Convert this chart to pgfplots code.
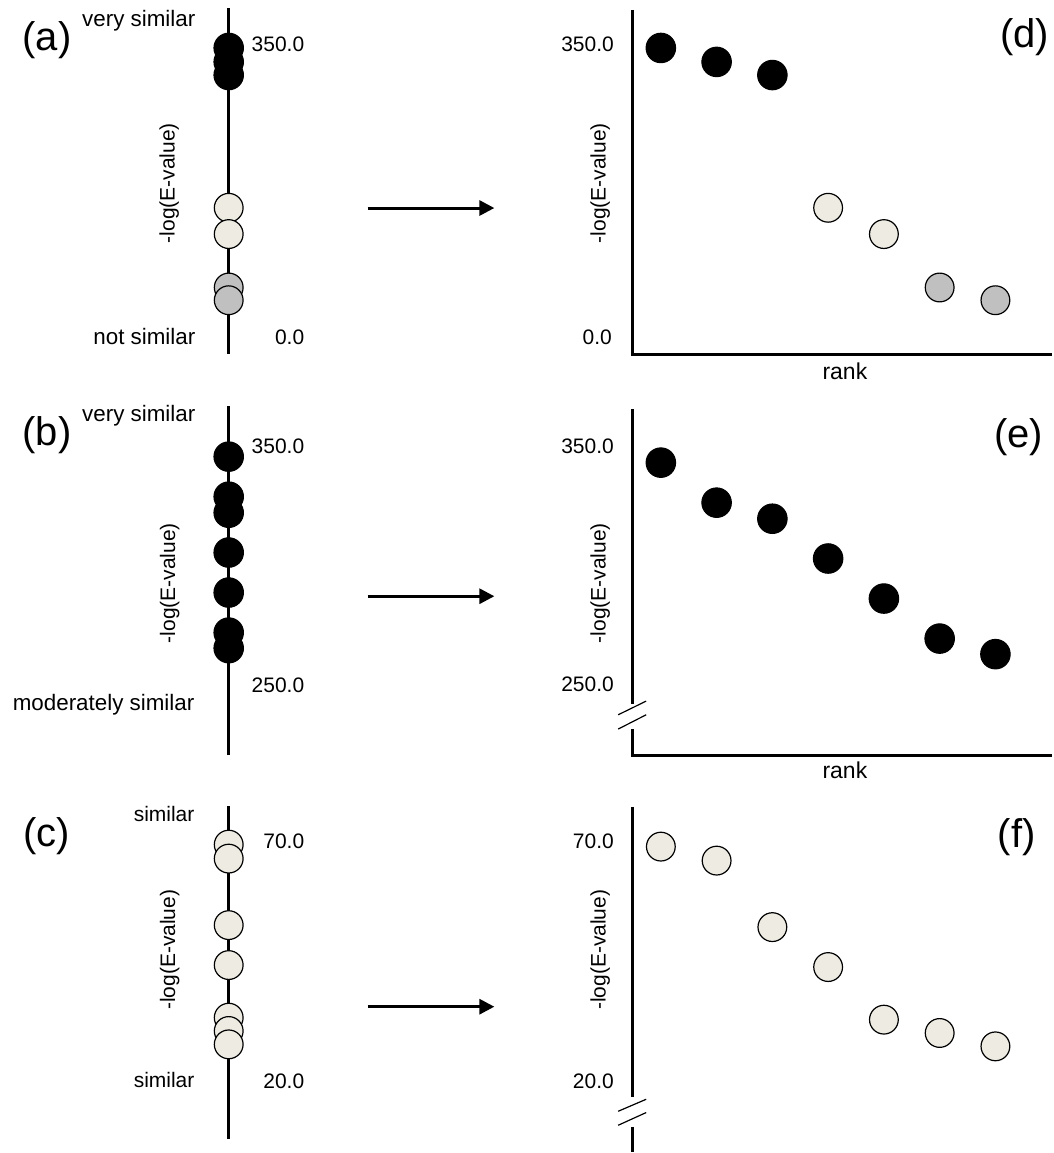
\documentclass[border=0pt]{standalone}
\usepackage{fontspec}
\setmainfont{Liberation Sans}
\usepackage{pgfplots}
\pgfplotsset{compat=1.18}
\usetikzlibrary{arrows.meta}
\definecolor{cream}{RGB}{238,236,226}
\definecolor{gry}{RGB}{192,192,192}
\pgfplotsset{
  panel/.style={scale only axis, hide axis, clip=false, anchor=south west},
  blk/.style={only marks, mark=*, mark size=7.4pt, mark options={draw=black, fill=black, line width=0.5pt}},
  crm/.style={only marks, mark=*, mark size=7.2pt, mark options={draw=black, fill=cream, line width=0.6pt}},
  gr/.style={only marks, mark=*, mark size=7.2pt, mark options={draw=black, fill=gry, line width=0.6pt}},
}
\tikzset{
  lab/.style={font=\fontsize{10.5}{12}\selectfont, inner sep=0pt},
  wlab/.style={font=\fontsize{11.2}{13}\selectfont, inner sep=0pt},
  big/.style={font=\fontsize{20}{23}\selectfont, inner sep=0pt},
  spine/.style={line width=1.5pt},
  slash/.style={line width=0.6pt},
  arr/.style={line width=1.5pt, -{Triangle[length=7.5pt,width=7.5pt]}},
}
\begin{document}
\begin{tikzpicture}
\begin{scope}[x=0.5pt,y=0.5pt]
\path[use as bounding box] (0,0) rectangle (1054,-1153);
\end{scope}

% ---------- axes ----------
% (a)
\begin{axis}[panel, at={(104.5pt,-177pt)}, width=20pt, height=173pt,
  xmin=-1, xmax=1, ymin=-21.87, ymax=398.6]
\addplot[black, line width=1.5pt] coordinates {(0,-21.87) (0,398.6)};
\addplot[blk] coordinates {(0,350) (0,333) (0,317)};
\addplot[crm] coordinates {(0,155.5) (0,123.5)};
\addplot[gr] coordinates {(0,58.5) (0,43)};
\end{axis}
% (d)
\begin{axis}[panel, at={(316.5pt,-177.5pt)}, width=210pt, height=172.5pt,
  xmin=0.486, xmax=8.008, ymin=-23.09, ymax=396.2]
\addplot[blk] coordinates {(1,350) (2,333) (3,317)};
\addplot[crm] coordinates {(4,155.5) (5,123.5)};
\addplot[gr] coordinates {(6,58.5) (7,43)};
\end{axis}
% (b)
\begin{axis}[panel, at={(104.5pt,-378pt)}, width=20pt, height=174.5pt,
  xmin=-1, xmax=1, ymin=217.92, ymax=363.33]
\addplot[black, line width=1.5pt] coordinates {(0,217.92) (0,363.33)};
\addplot[blk] coordinates {(0,342.4) (0,325.7) (0,319) (0,302.4) (0,285.7) (0,269) (0,262.5)};
\end{axis}
% (e)
\begin{axis}[panel, at={(316.5pt,-378pt)}, width=210pt, height=173pt,
  xmin=0.486, xmax=8.008, ymin=220.42, ymax=364.58]
\addplot[blk] coordinates {(1,342.4) (2,325.7) (3,319) (4,302.4) (5,285.7) (6,269) (7,262.5)};
\end{axis}
% (c)
\begin{axis}[panel, at={(104.5pt,-570pt)}, width=20pt, height=166.5pt,
  xmin=-1, xmax=1, ymin=7.56, ymax=77.17]
\addplot[black, line width=1.5pt] coordinates {(0,7.56) (0,77.17)};
\addplot[crm] coordinates {(0,69.08) (0,66.15) (0,52.23) (0,43.87) (0,32.86) (0,30.07) (0,27.27)};
\end{axis}
% (f)
\begin{axis}[panel, at={(316.5pt,-576.5pt)}, width=210pt, height=172.5pt,
  xmin=0.486, xmax=8.008, ymin=5.26, ymax=77.38]
\addplot[crm] coordinates {(1,69.08) (2,66.15) (3,52.23) (4,43.87) (5,32.86) (6,30.07) (7,27.27)};
\end{axis}

\begin{scope}[x=0.5pt,y=0.5pt]
% (a)
\node[big] at (47,-40) {(a)};
\node[wlab, anchor=base east] at (196,-27) {very similar};
\node[wlab, anchor=base east] at (196,-345) {not similar};
\node[lab, anchor=base east] at (305,-52) {350.0};
\node[lab, anchor=base east] at (305,-345) {0.0};
\node[lab, rotate=90] at (169.5,-183.5) {-log(E-value)};
% (d)
\draw[spine] (633,-10) -- (633,-355) -- (1053,-355);
\node[big] at (1026,-37) {(d)};
\node[lab, anchor=base east] at (615,-52) {350.0};
\node[lab, anchor=base east] at (613,-345) {0.0};
\node[lab, rotate=90] at (601,-183.5) {-log(E-value)};
\node[lab, font=\fontsize{11.5}{13}\selectfont, anchor=base] at (846,-380) {rank};
\draw[arr] (368,-208.3) -- (495,-208.3);
% (b)
\node[big] at (47,-436) {(b)};
\node[wlab, anchor=base east] at (196,-422) {very similar};
\node[wlab, anchor=base east] at (195,-711) {moderately similar};
\node[lab, anchor=base east] at (305,-454) {350.0};
\node[lab, anchor=base east] at (305,-693) {250.0};
\node[lab, rotate=90] at (170,-584) {-log(E-value)};
% (e)
\draw[spine] (633,-410) -- (633,-705);
\draw[spine] (633,-730) -- (633,-756) -- (1053,-756);
\draw[slash] (619,-715.7) -- (647,-702);
\draw[slash] (619,-730) -- (647,-715.7);
\node[big] at (1020,-438) {(e)};
\node[lab, anchor=base east] at (615,-454) {350.0};
\node[lab, anchor=base east] at (615,-692) {250.0};
\node[lab, rotate=90] at (601,-584) {-log(E-value)};
\node[lab, font=\fontsize{11.5}{13}\selectfont, anchor=base] at (846,-780) {rank};
\draw[arr] (368,-597) -- (495,-597);
% (c)
\node[big] at (47,-837) {(c)};
\node[lab, anchor=base east] at (195,-823) {similar};
\node[lab, anchor=base east] at (195,-1089) {similar};
\node[lab, anchor=base east] at (305,-850) {70.0};
\node[lab, anchor=base east] at (305,-1090) {20.0};
\node[lab, rotate=90] at (170,-951) {-log(E-value)};
% (f)
\draw[spine] (633,-808) -- (633,-1098.3);
\draw[spine] (633,-1128.3) -- (633,-1153);
\draw[slash] (619,-1112.7) -- (647,-1100.7);
\draw[slash] (619,-1126.7) -- (647,-1114);
\node[big] at (1018,-838) {(f)};
\node[lab, anchor=base east] at (615,-850) {70.0};
\node[lab, anchor=base east] at (615,-1090) {20.0};
\node[lab, rotate=90] at (601,-951) {-log(E-value)};
\draw[arr] (368,-1008) -- (495,-1008);
\end{scope}

\end{tikzpicture}
\end{document}
